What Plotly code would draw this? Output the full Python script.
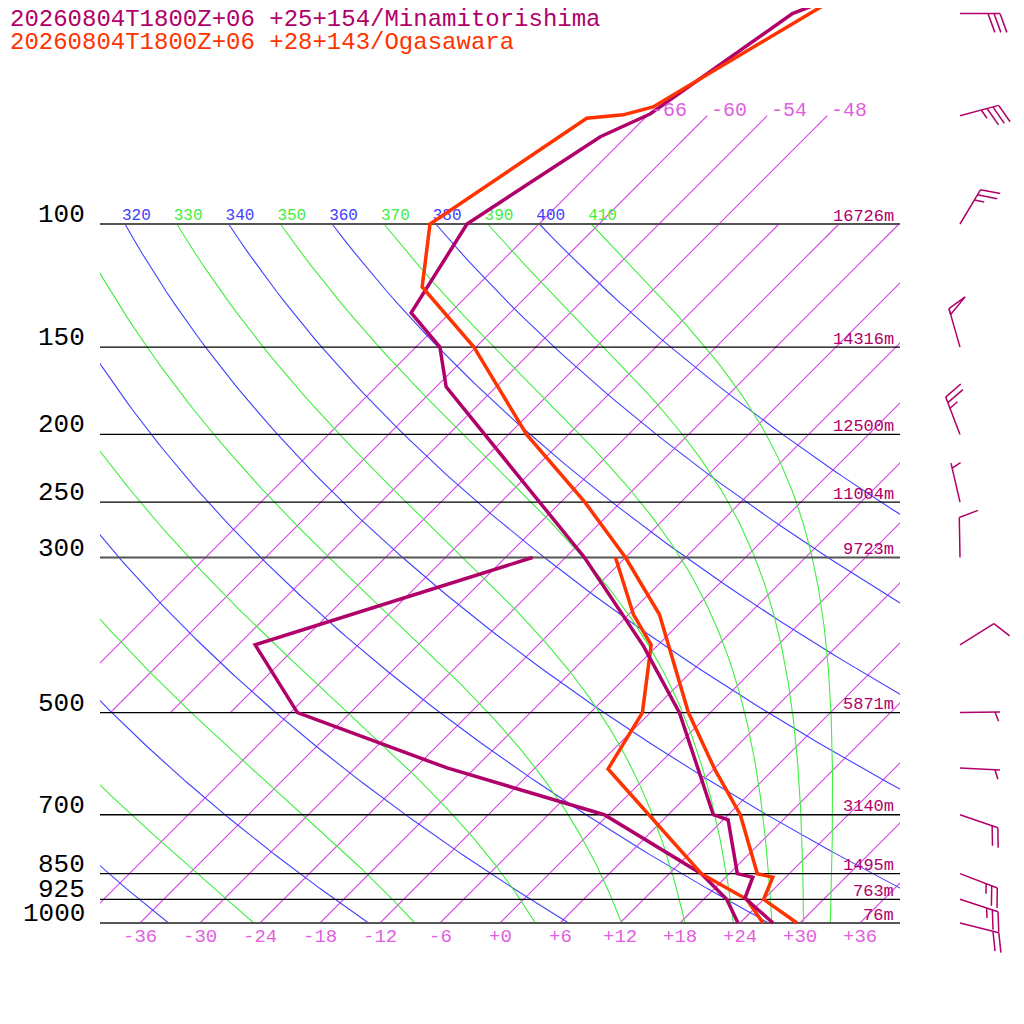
import numpy as np
import plotly.graph_objects as go

# skew-T geometry: x = T + SKEW * log10(1000 / p)
KAPPA = 0.2857
SKEW = 69.9
RD, CP, LV, EPS = 287.04, 1005.7, 2.501e6, 0.622

TITLE_MINAMI = "20260804T1800Z+06 +25+154/Minamitorishima"
TITLE_OGA = "20260804T1800Z+06 +28+143/Ogasawara"
MINAMI_COLOR = "#b0006a"
OGA_COLOR = "#ff3300"
ISO_COLOR = "#d840e4"
DRY_COLOR = "#4040ff"
MOIST_COLOR = "#40ee40"
FONT = "Liberation Mono"

# Minamitorishima temperature / dewpoint
minami_p = [1000, 921, 860, 850, 712, 700, 500, 402, 300, 171, 150, 134, 100, 75, 69.6, 50, 45]
minami_t = [27.3, 22.0, 20.7, 18.8, 12.5, 10.5, -3.1, -13.3, -28.1, -59.0, -63.6, -69.9,
            -73.2, -68.6, -65.9, -61.7, -56.6]
minami_td_p = [1000, 925, 850, 700, 600, 500, 400, 300]
minami_td = [23.8, 20.3, 15.2, -0.4, -20.8, -41.3, -52.3, -33.3]

# Ogasawara temperature / dewpoint
oga_p = [1000, 925, 860, 850, 700, 604, 500, 362, 300, 250, 200, 150, 123, 100,
         70.6, 69.8, 68.0, 50, 45]
oga_t = [29.7, 24.0, 22.7, 20.8, 13.2, 6.2, -2.2, -14.9, -24.0, -33.6, -46.2, -60.2,
         -71.4, -76.9, -71.8, -68.5, -66.3, -60.0, -57.8]
oga_td_p = [1000, 925, 850, 700, 602, 500, 400, 362, 300]
oga_td = [26.3, 22.3, 15.2, 4.0, -4.6, -6.8, -12.7, -17.5, -25.0]

# Minamitorishima winds (direction deg, speed kt)
wind_p = [1000, 925, 850, 700, 600, 500, 400, 300, 250, 200, 150, 100, 70, 50]
wind_dir = [104, 108, 111, 109, 93, 89, 58, 359, 347, 339, 344, 31, 75, 90]
wind_kt = [20, 25, 25, 20, 5, 5, 10, 10, 5, 25, 50, 25, 35, 30]

# grid
levels = [100, 150, 200, 250, 300, 500, 700, 850, 925, 1000]
heavy_levels = [100, 300, 1000]
heights = ["16726m", "14316m", "12500m", "11004m", "9723m", "5871m", "3140m",
           "1495m", "763m", "76m"]
iso_upper = [-66, -60, -54, -48]          # drawn 500 -> 70 hPa, labelled
iso_lower = list(range(-42, 37, 6))       # drawn 1000 -> 100 hPa
dry_thetas = list(range(240, 401, 20))
moist_thetas = list(range(250, 411, 20))
tick_temps = list(range(-36, 37, 6))

# page frame: the page body has an 8px margin, so the figure starts at (8, 8)
OFF = 8
SIZE = 1024 - OFF
PX_PER_DEG = 10.0
PX_PER_DECADE = 699.0
X0_PX, P1000_PX = 500.0, 923.0       # page pixel of x=0 and of the 1000 hPa line


def skew_x(t, p):
    return np.asarray(t) + SKEW * np.log10(1000.0 / np.asarray(p))


def moist_temps(theta, ps):
    def dtdp(p, t):
        es = 6.112 * np.exp(17.67 * (t - 273.15) / (t - 29.65))
        rs = EPS * es / (p - es)
        return (RD * t + LV * rs) / p / (CP + LV * LV * rs * EPS / (RD * t * t))
    t = theta * 0.1 ** KAPPA
    out = [t]
    for p0, p1 in zip(ps[:-1], ps[1:]):
        h = p1 - p0
        k1 = dtdp(p0, t)
        k2 = dtdp(p0 + h / 2, t + h / 2 * k1)
        k3 = dtdp(p0 + h / 2, t + h / 2 * k2)
        k4 = dtdp(p1, t + h * k3)
        t = t + h / 6 * (k1 + 2 * k2 + 2 * k3 + k4)
        out.append(t)
    return np.array(out) - 273.15


def barb_path(p, direction, speed):
    base_x, base_lp = 46.0, np.log10(p)
    d = np.radians(direction)
    ux, uy = np.sin(d), -np.cos(d)
    a = np.radians(70)
    bx, by = ux * np.cos(a) - uy * np.sin(a), ux * np.sin(a) + uy * np.cos(a)
    pts = []

    def add(seg):
        for sx, sy in seg:
            pts.append((base_x + sx / PX_PER_DEG, 10 ** (base_lp + sy / PX_PER_DECADE)))
        pts.append((None, None))

    tip = (40 * ux, 40 * uy)
    add([(0, 0), tip])
    pos = 0.0
    rest = speed
    while rest >= 50:
        s = (tip[0] - pos * ux, tip[1] - pos * uy)
        e = (s[0] + 20 * bx, s[1] + 20 * by)
        s2 = (tip[0] - (pos + 6) * ux, tip[1] - (pos + 6) * uy)
        add([s, e, s2, s])
        pos += 7
        rest -= 50
    while rest >= 10:
        s = (tip[0] - pos * ux, tip[1] - pos * uy)
        add([s, (s[0] + 20 * bx, s[1] + 20 * by)])
        pos += 6
        rest -= 10
    if rest >= 5:
        if speed < 10:
            pos += 5
        s = (tip[0] - pos * ux, tip[1] - pos * uy)
        add([s, (s[0] + 10 * bx, s[1] + 10 * by)])
    xs, ys = zip(*pts)
    return list(xs), list(ys)


fig = go.Figure()
line_kw = dict(mode="lines", hoverinfo="skip", showlegend=False)

# ---- background grid, clipped to the inner box (subplot xy) ----
for t in iso_upper:
    ps = np.array([500, 70])
    fig.add_trace(go.Scatter(x=skew_x(t, ps), y=ps, line=dict(color=ISO_COLOR, width=1.1),
                             xaxis="x", yaxis="y", **line_kw))
for t in iso_lower:
    ps = np.array([1000, 100])
    fig.add_trace(go.Scatter(x=skew_x(t, ps), y=ps, line=dict(color=ISO_COLOR, width=1.1),
                             xaxis="x", yaxis="y", **line_kw))

p_grid = np.linspace(1000, 100, 181)
for th in dry_thetas:
    tc = th * (p_grid / 1000.0) ** KAPPA - 273.15
    fig.add_trace(go.Scatter(x=skew_x(tc, p_grid), y=p_grid,
                             line=dict(color=DRY_COLOR, width=1.1),
                             xaxis="x", yaxis="y", **line_kw))
p_up = np.linspace(100, 1000, 181)
for th in moist_thetas:
    tc = moist_temps(th, p_up)
    fig.add_trace(go.Scatter(x=skew_x(tc, p_up), y=p_up,
                             line=dict(color=MOIST_COLOR, width=1.1),
                             xaxis="x", yaxis="y", **line_kw))

# theta labels sit on the 100 hPa line; only those at least partly inside the box
label_thetas = [th for th in sorted(dry_thetas + moist_thetas)
                if th * 0.1 ** KAPPA - 273.15 + SKEW > -43.5]
label_x = [th * 0.1 ** KAPPA - 273.15 + SKEW - 0.3 for th in label_thetas]
label_col = [DRY_COLOR if th in dry_thetas else MOIST_COLOR for th in label_thetas]
fig.add_trace(go.Scatter(x=label_x, y=[100] * len(label_x), mode="text",
                         text=[str(th) for th in label_thetas], textposition="top right",
                         textfont=dict(family=FONT, size=16, color=label_col),
                         cliponaxis=True, hoverinfo="skip", showlegend=False,
                         xaxis="x", yaxis="y"))

# ---- pressure levels, soundings and barbs (full-page subplot x2y2) ----
for p in levels:
    heavy = p in heavy_levels
    fig.add_trace(go.Scatter(x=[-40, 40], y=[p, p],
                             line=dict(color="#555555" if heavy else "#000000",
                                       width=2.2 if heavy else 1.4),
                             xaxis="x2", yaxis="y2", **line_kw))

for ps, ts, col in [(minami_td_p, minami_td, MINAMI_COLOR), (oga_td_p, oga_td, OGA_COLOR),
                    (minami_p, minami_t, MINAMI_COLOR), (oga_p, oga_t, OGA_COLOR)]:
    fig.add_trace(go.Scatter(x=skew_x(ts, ps), y=ps, line=dict(color=col, width=3.5),
                             xaxis="x2", yaxis="y2", **line_kw))

for p, d, s in zip(wind_p, wind_dir, wind_kt):
    bxs, bys = barb_path(p, d, s)
    fig.add_trace(go.Scatter(x=bxs, y=bys, line=dict(color=MINAMI_COLOR, width=1.5),
                             connectgaps=False, xaxis="x2", yaxis="y2", **line_kw))

# ---- text ----
def page_y(py):
    return 1 - (py - OFF) / SIZE


ann = []
ann.append(dict(text=TITLE_MINAMI, x=0, y=page_y(20), xref="paper", yref="paper",
                xanchor="left", yanchor="middle", showarrow=False,
                font=dict(family=FONT, size=24, color=MINAMI_COLOR)))
ann.append(dict(text=TITLE_OGA, x=0, y=page_y(42), xref="paper", yref="paper",
                xanchor="left", yanchor="middle", showarrow=False,
                font=dict(family=FONT, size=24, color=OGA_COLOR)))
for p, h in zip(levels, heights):
    ann.append(dict(text=str(p), x=-41.3, y=np.log10(p), xref="x2", yref="y2",
                    xanchor="right", yanchor="middle", yshift=9, showarrow=False,
                    font=dict(family=FONT, size=26, color="#000000")))
    ann.append(dict(text=h, x=39.6, y=np.log10(p), xref="x2", yref="y2",
                    xanchor="right", yanchor="middle", yshift=8, showarrow=False,
                    font=dict(family=FONT, size=17, color=MINAMI_COLOR)))
for t in tick_temps:
    ann.append(dict(text=f"{t:+d}" if t >= 0 else f"{t:d}", x=t, y=page_y(937),
                    xref="x2", yref="paper", xanchor="center", yanchor="middle",
                    showarrow=False, font=dict(family=FONT, size=19, color="#e060e0")))
for t in iso_upper:
    ann.append(dict(text=str(t), x=float(skew_x(t, 70)) + 0.2, y=np.log10(70),
                    xref="x2", yref="y2", xanchor="left", yanchor="middle", yshift=5,
                    showarrow=False, font=dict(family=FONT, size=20, color="#e060e0")))

axis_off = dict(showgrid=False, zeroline=False, showticklabels=False, showline=False,
                ticks="")
x_left = (OFF - X0_PX) / PX_PER_DEG
x_right = (1024 - X0_PX) / PX_PER_DEG
lp_top = 3 - (P1000_PX - OFF) / PX_PER_DECADE
lp_bottom = 3 + (1024 - P1000_PX) / PX_PER_DECADE
fig.update_layout(
    width=SIZE, height=SIZE, margin=dict(l=0, r=0, t=0, b=0),
    paper_bgcolor="white", plot_bgcolor="rgba(0,0,0,0)", showlegend=False,
    xaxis=dict(domain=[(100 - OFF) / SIZE, (900 - OFF) / SIZE], range=[-40, 40],
               **axis_off),
    yaxis=dict(domain=[page_y(P1000_PX), 1], type="log", range=[3, lp_top], **axis_off),
    xaxis2=dict(domain=[0, 1], range=[x_left, x_right], anchor="y2", **axis_off),
    yaxis2=dict(domain=[0, 1], type="log", range=[lp_bottom, lp_top], anchor="x2",
                **axis_off),
    annotations=ann,
)

fig.write_html("out.html")
